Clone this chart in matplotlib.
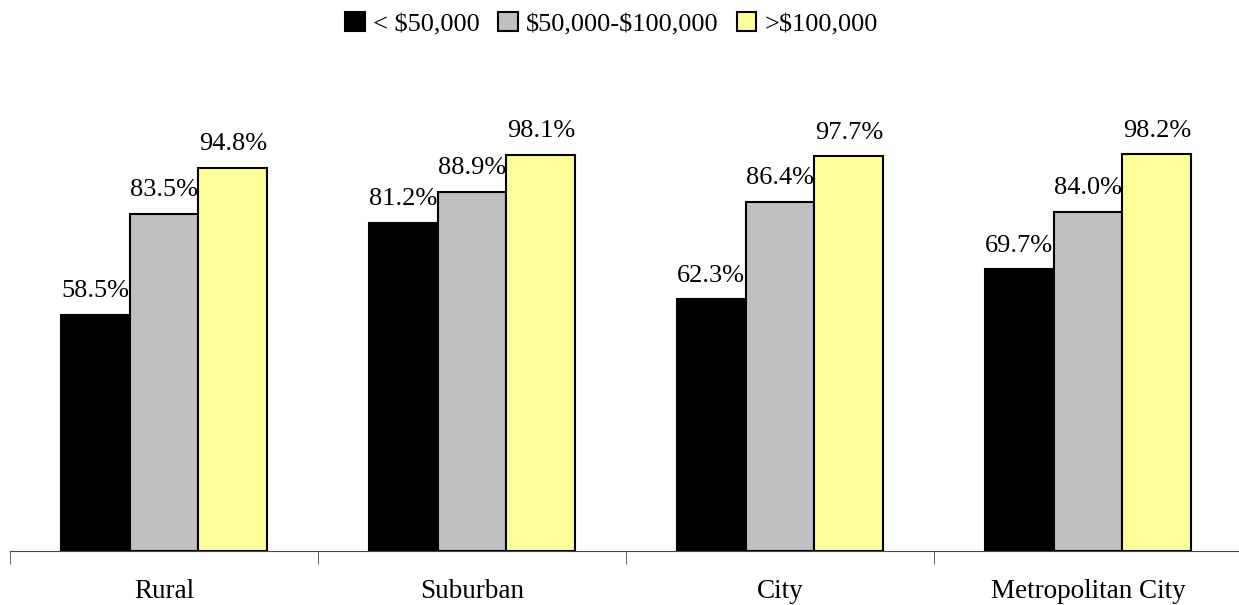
import matplotlib.pyplot as plt
import numpy as np

plt.rcParams['font.family'] = ['Liberation Serif', 'DejaVu Serif']

categories = ['Rural', 'Suburban', 'City', 'Metropolitan City']
series_names = ['< \\$50,000', '\\$50,000-\\$100,000', '>\\$100,000']
low = [58.5, 81.2, 62.3, 69.7]
mid = [83.5, 88.9, 86.4, 84.0]
high = [94.8, 98.1, 97.7, 98.2]
colors = ['#000000', '#C0C0C0', '#FFFF99']

fig = plt.figure(figsize=(12.39, 6.05), dpi=100)
ax = fig.add_axes([10 / 1239, 54 / 605, 1232 / 1239, 485 / 605])

x = np.arange(len(categories))
w = 0.224
for i, (vals, name) in enumerate(zip([low, mid, high], series_names)):
    bars = ax.bar(x + (i - 1) * w, vals, w, color=colors[i], edgecolor='black',
                  linewidth=1.5, label=name)
    ax.bar_label(bars, labels=['%.1f%%' % v for v in vals], padding=9, fontsize=19)

ax.set_xlim(-0.5, 3.5)
ax.set_ylim(0, 120)
ax.set_yticks([])
for s in ['top', 'right', 'left']:
    ax.spines[s].set_visible(False)
ax.spines['bottom'].set_color('#444444')

ax.set_xticks(x)
ax.set_xticklabels(categories, fontsize=19.5)
ax.tick_params(axis='x', which='major', length=0, pad=20)
ax.set_xticks(np.arange(-0.5, 4, 1), minor=True)
ax.tick_params(axis='x', which='minor', length=9, direction='out', color='#444444')

ax.legend(loc='upper center', bbox_to_anchor=(0.488, 1.16), ncol=3, frameon=False,
          fontsize=19, handlelength=0.75, handleheight=0.75, handletextpad=0.3,
          columnspacing=0.7)

fig.savefig('out.png', dpi=100)
